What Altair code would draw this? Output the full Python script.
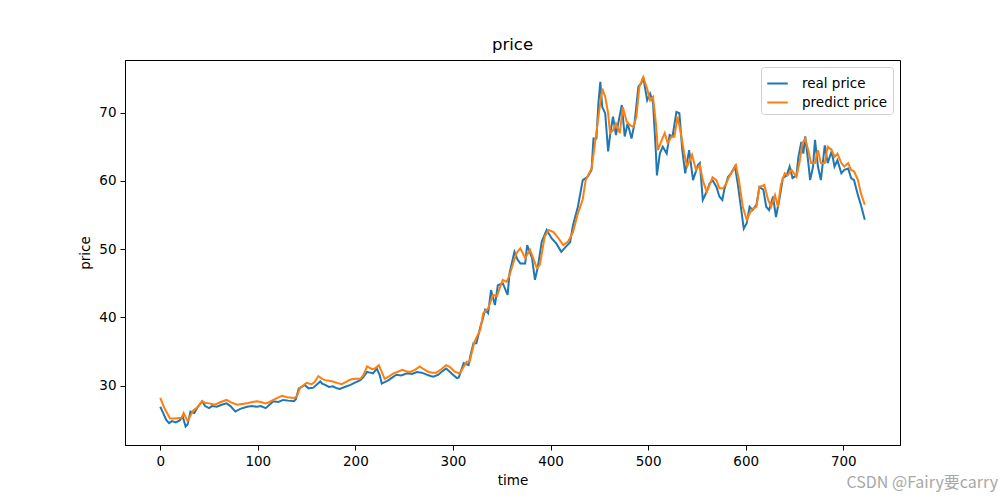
import altair as alt
import pandas as pd

# ---- data (time index, price) ----
real_t = [0, 3, 6, 9, 12, 16, 20, 23, 26, 28, 31, 35, 38, 43, 46, 50, 53, 58, 63, 68, 72, 77, 82, 89, 94,
          99, 103, 108, 112, 116, 121, 126, 131, 137, 139, 142, 145, 148, 152, 157, 164, 166, 169, 173, 177,
          181, 184, 189, 195, 199, 205, 208, 212, 215, 218, 222, 225, 227, 230, 234, 238, 242, 247, 253, 258,
          263, 268, 273, 277, 280, 285, 290, 293, 297, 300, 304, 306, 311, 316, 318, 321, 324, 328, 330, 333,
          336, 339, 343, 346, 351, 356, 358, 363, 366, 369, 374, 376, 381, 384, 387, 391, 396, 401, 406, 411,
          416, 420, 423, 428, 433, 438, 442, 444, 447, 449, 451, 453, 456, 459, 461, 464, 467, 473, 476, 479,
          483, 486, 490, 493, 495, 499, 502, 505, 508, 509, 512, 515, 519, 522, 525, 529, 532, 535, 538, 542,
          546, 551, 553, 556, 560, 563, 566, 570, 573, 576, 578, 582, 585, 589, 592, 595, 598, 601, 604, 607,
          611, 614, 618, 621, 624, 628, 631, 635, 638, 642, 645, 648, 652, 654, 657, 659, 661, 664, 666, 669,
          671, 674, 677, 681, 684, 688, 691, 694, 698, 701, 705, 708, 711, 715, 718, 722]
real_v = [26.9, 26.0, 25.0, 24.5, 24.8, 24.6, 24.9, 25.5, 24.0, 24.3, 26.2, 26.0, 26.8, 27.7, 27.0, 26.7,
          27.0, 26.9, 27.2, 27.4, 27.0, 26.2, 26.6, 26.9, 27.0, 26.9, 27.0, 26.7, 27.2, 27.7, 27.6, 27.9,
          27.8, 27.7, 28.0, 29.6, 29.8, 30.1, 29.6, 29.7, 30.6, 30.3, 30.1, 29.8, 29.9, 29.6, 29.5, 29.8,
          30.1, 30.4, 30.8, 31.2, 32.0, 31.9, 31.8, 32.5, 31.5, 30.3, 30.5, 30.8, 31.2, 31.6, 31.5, 31.8,
          31.7, 32.0, 31.9, 31.6, 31.4, 31.3, 31.6, 32.2, 32.5, 32.0, 31.6, 31.1, 31.2, 33.3, 33.0, 34.5,
          36.2, 36.2, 38.6, 39.5, 41.1, 40.6, 44.0, 41.8, 44.7, 45.0, 43.3, 46.5, 49.6, 48.5, 47.9, 47.9,
          50.6, 48.7, 45.5, 47.4, 51.1, 52.8, 51.6, 50.8, 49.6, 50.4, 51.0, 53.5, 56.2, 60.1, 60.6, 61.6,
          66.2, 66.2, 71.3, 74.5, 70.8, 69.9, 64.3, 66.7, 69.4, 66.7, 71.1, 66.5, 68.4, 66.2, 68.4, 73.8,
          74.3, 75.2, 71.8, 72.8, 71.5, 64.0, 60.8, 64.0, 65.0, 64.0, 66.7, 66.5, 70.1, 69.9, 64.5, 61.1,
          64.5, 60.1, 62.3, 62.6, 57.2, 58.4, 59.6, 60.1, 59.1, 57.7, 57.2, 58.7, 60.6, 61.1, 62.1, 59.4,
          56.2, 53.0, 53.8, 56.2, 55.7, 56.5, 59.1, 58.7, 56.2, 55.7, 57.7, 54.7, 57.7, 60.4, 60.8, 62.1,
          60.4, 60.8, 63.5, 65.7, 64.0, 66.5, 62.8, 60.1, 62.1, 66.0, 62.1, 60.1, 65.2, 62.6, 64.3, 62.1,
          63.0, 61.1, 61.6, 61.8, 60.4, 60.1, 57.9, 56.5, 54.3]

pred_t = [0, 4, 10, 15, 22, 24, 28, 31, 34, 38, 43, 46, 50, 53, 56, 62, 68, 73, 79, 84, 89, 94, 99, 103,
          108, 112, 116, 120, 125, 130, 137, 140, 143, 147, 150, 155, 158, 162, 166, 169, 173, 177, 181, 186,
          190, 195, 200, 205, 208, 212, 217, 220, 224, 227, 230, 234, 239, 243, 248, 252, 256, 261, 266, 270,
          275, 279, 283, 288, 293, 297, 302, 307, 310, 314, 317, 322, 328, 331, 336, 341, 345, 351, 355, 358,
          365, 369, 374, 379, 386, 389, 394, 398, 403, 408, 413, 418, 423, 428, 433, 436, 442, 446, 450, 453,
          456, 459, 461, 464, 467, 471, 474, 478, 481, 485, 488, 491, 495, 499, 502, 505, 508, 510, 514, 517,
          520, 524, 527, 530, 533, 537, 540, 545, 549, 553, 556, 560, 563, 566, 570, 573, 577, 580, 583, 587,
          590, 593, 597, 601, 604, 607, 611, 614, 619, 623, 626, 630, 633, 636, 640, 643, 647, 652, 655, 658,
          661, 664, 667, 671, 674, 677, 681, 684, 688, 691, 694, 698, 701, 705, 708, 711, 715, 718, 722]
pred_v = [28.2, 26.8, 25.2, 25.2, 25.3, 26.0, 24.8, 25.6, 26.4, 26.8, 27.7, 27.5, 27.4, 27.3, 27.2, 27.6,
          27.9, 27.5, 27.2, 27.3, 27.4, 27.6, 27.7, 27.6, 27.4, 27.6, 27.9, 28.2, 28.5, 28.3, 28.2, 28.4,
          29.6, 30.1, 30.4, 30.2, 30.5, 31.4, 31.0, 30.8, 30.7, 30.6, 30.4, 30.2, 30.5, 30.9, 31.0, 31.0,
          31.5, 32.8, 32.4, 32.5, 33.0, 32.0, 31.0, 31.3, 31.8, 32.0, 32.3, 32.1, 32.0, 32.3, 32.8, 32.4,
          32.0, 31.9, 31.9, 32.4, 33.0, 32.7, 32.0, 31.8, 32.5, 33.5, 33.5, 36.4, 38.2, 40.6, 41.3, 43.3,
          43.1, 45.5, 45.2, 46.2, 49.4, 50.1, 48.7, 49.9, 47.2, 47.7, 51.8, 52.8, 52.5, 51.6, 50.6, 51.1,
          52.5, 55.2, 57.3, 60.1, 61.8, 66.0, 70.4, 73.5, 72.3, 69.9, 67.0, 67.4, 68.4, 67.0, 70.8, 68.7,
          68.2, 67.9, 69.4, 73.8, 75.2, 73.5, 71.8, 72.3, 68.4, 64.5, 66.0, 67.0, 65.5, 66.5, 66.5, 69.4,
          67.4, 64.0, 62.1, 63.8, 61.6, 62.3, 60.1, 58.4, 59.4, 60.5, 60.1, 58.9, 58.9, 59.6, 60.6, 61.6,
          62.3, 60.1, 56.2, 54.3, 55.2, 55.9, 56.2, 59.1, 59.4, 57.2, 56.2, 57.9, 56.2, 59.4, 61.1, 60.8,
          61.6, 60.6, 62.6, 65.5, 66.2, 64.5, 62.6, 62.6, 64.5, 62.6, 62.6, 65.0, 64.5, 63.5, 64.0, 62.6,
          62.1, 62.6, 61.6, 61.4, 60.1, 58.2, 56.5]

series_names = ["real price", "predict price"]
series_colors = ["#1f77b4", "#ff7f0e"]
x_ticks = [0, 100, 200, 300, 400, 500, 600, 700]
y_ticks = [30, 40, 50, 60, 70]

df = pd.concat([
    pd.DataFrame({"time": real_t, "price": real_v, "series": series_names[0]}),
    pd.DataFrame({"time": pred_t, "price": pred_v, "series": series_names[1]}),
], ignore_index=True)

FONT = "DejaVu Sans"
FS = 13.5

lines = alt.Chart(df).mark_line(strokeWidth=2, clip=True).encode(
    x=alt.X("time:Q", title="time",
            scale=alt.Scale(domain=[-36.1, 758.1], nice=False, zero=False),
            axis=alt.Axis(values=x_ticks, format="d", grid=False)),
    y=alt.Y("price:Q", title="price",
            scale=alt.Scale(domain=[21.3, 77.7], nice=False, zero=False),
            axis=alt.Axis(values=y_ticks, format="d", grid=False)),
    color=alt.Color("series:N",
                    scale=alt.Scale(domain=series_names, range=series_colors),
                    legend=alt.Legend(title=None, orient="top-right", offset=7,
                                      symbolType="stroke", symbolSize=420,
                                      symbolStrokeWidth=2, labelFontSize=FS,
                                      labelFont=FONT, labelColor="black",
                                      strokeColor="#d0d0d0", fillColor="white",
                                      padding=5, cornerRadius=3, rowPadding=1,
                                      labelOffset=13)),
    order="time:Q",
)

watermark = alt.Chart(pd.DataFrame({"t": ["CSDN @Fairy要carry"]})).mark_text(
    align="right", baseline="middle", fontSize=16, font="Noto Sans CJK SC",
    color="#a8a8a8"
).encode(text="t:N", x=alt.value(873), y=alt.value(423))

chart = alt.layer(lines, watermark).properties(
    width=775, height=385,
    background="white",
    title=alt.TitleParams("price", fontSize=16.5, font=FONT, fontWeight="normal",
                          color="black", offset=7),
    autosize=alt.AutoSizeParams(type="none"),
    padding={"left": 125, "top": 60, "right": 100, "bottom": 55},
).configure_axis(
    grid=False, domainColor="black", tickColor="black", labelColor="black",
    titleColor="black", labelFontSize=FS, titleFontSize=FS,
    titleFontWeight="normal", labelFont=FONT, titleFont=FONT,
    tickSize=5, domainWidth=1, tickWidth=1, labelPadding=4, titlePadding=6,
).configure_view(stroke="black", strokeWidth=1)

chart.save("out.html", embed_options={"renderer": "svg", "actions": False})
